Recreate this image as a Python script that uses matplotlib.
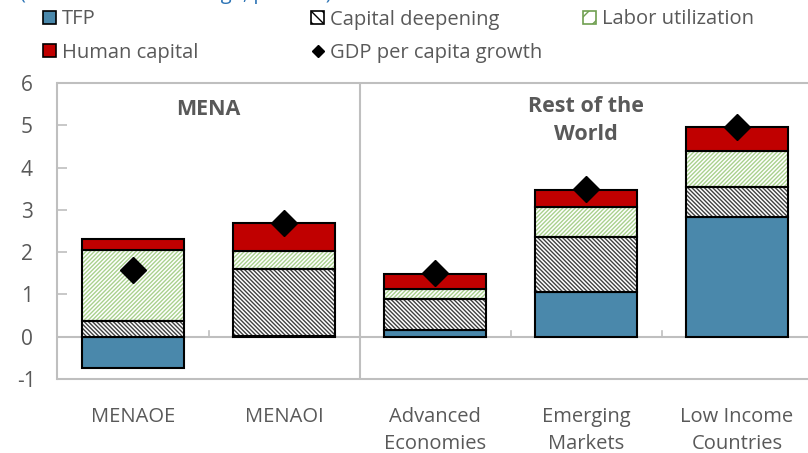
import matplotlib.pyplot as plt
from matplotlib.patches import Patch
from matplotlib.lines import Line2D

plt.rcParams['font.family'] = ['Open Sans', 'DejaVu Sans']
plt.rcParams['axes.unicode_minus'] = False
plt.rcParams['hatch.linewidth'] = 1.0

categories = ['MENAOE', 'MENAOI', 'Advanced\nEconomies', 'Emerging\nMarkets', 'Low Income\nCountries']
tfp = [-0.74, 0.02, 0.15, 1.06, 2.84]
capital = [0.37, 1.59, 0.75, 1.30, 0.71]
labor = [1.69, 0.41, 0.23, 0.70, 0.84]
human = [0.25, 0.67, 0.36, 0.42, 0.58]
gdp = [1.58, 2.70, 1.51, 3.50, 4.95]

grey = '#595959'
blue = '#4A88AB'
red = '#C00000'
green = '#A9D18E'

fig = plt.figure(figsize=(8.08, 4.53), dpi=100)
ax = fig.add_axes([57.5 / 808, (453 - 379) / 453, 755 / 808, 296 / 453])

x = list(range(len(categories)))
w = 0.67

# TFP (negative part goes below zero)
ax.bar(x, tfp, w, color=blue, edgecolor='black', linewidth=1.5, zorder=2)

# capital deepening sits on top of the positive TFP part
base1 = [max(t, 0) for t in tfp]
ax.bar(x, capital, w, bottom=base1, color='white', edgecolor='#404040', hatch='\\' * 8, linewidth=0, zorder=2)
ax.bar(x, capital, w, bottom=base1, fill=False, edgecolor='black', linewidth=1.5, zorder=3)

base2 = [b + c for b, c in zip(base1, capital)]
ax.bar(x, labor, w, bottom=base2, color='white', edgecolor=green, hatch='/' * 8, linewidth=0, zorder=2)
ax.bar(x, labor, w, bottom=base2, fill=False, edgecolor='black', linewidth=1.5, zorder=3)

base3 = [b + l for b, l in zip(base2, labor)]
ax.bar(x, human, w, bottom=base3, color=red, edgecolor='black', linewidth=1.5, zorder=3)

ax.plot(x, gdp, linestyle='none', marker='D', color='black', markersize=13.5, zorder=4)

ax.set_xlim(-0.5, 4.5)
ax.set_ylim(-1, 6)
ax.axhline(0, color='#BFBFBF', linewidth=1.5, zorder=1)
ax.axvline(1.5, color='#BFBFBF', linewidth=1.5, zorder=1)
for b in [0.5, 2.5, 3.5]:
    ax.plot([b, b], [0, 0.13], color='#BFBFBF', linewidth=1.2, zorder=1)

for s in ax.spines.values():
    s.set_color('#BFBFBF')
    s.set_linewidth(1.5)

ax.set_yticks(range(-1, 7))
ax.tick_params(axis='y', direction='in', length=7, color='#BFBFBF', width=1.2,
               labelsize=15, labelcolor=grey, pad=22)
for lab in ax.get_yticklabels():
    lab.set_horizontalalignment('center')
ax.set_xticks(x)
ax.set_xticklabels(categories, linespacing=1.45)
ax.tick_params(axis='x', length=0, labelsize=14.5, labelcolor=grey, pad=20)

ax.text(0.5, 5.37, 'MENA', ha='center', va='center', fontsize=15.5, fontweight='bold', color=grey)
ax.text(3, 5.12, 'Rest of the\nWorld', ha='center', va='center', fontsize=15.5, fontweight='bold',
        color=grey, linespacing=1.45)

# legend: three columns placed like the Excel original
cols = [
    (43, [Patch(facecolor=blue, edgecolor='black', linewidth=1.2),
          Patch(facecolor=red, edgecolor='black', linewidth=1.2)],
     ['TFP', 'Human capital']),
    (311, [Patch(facecolor='white', edgecolor='black', hatch='\\\\\\', linewidth=1.2),
           Line2D([], [], linestyle='none', marker='D', color='black', markersize=6)],
     ['Capital deepening', 'GDP per capita growth']),
    (583, [Patch(facecolor='white', edgecolor='#6F9F50', hatch='//', linewidth=1.2)],
     ['Labor utilization']),
]
for xpix, hs, ls in cols:
    fig.legend(hs, ls, loc='upper left', bbox_to_anchor=(xpix / 808, 1 - 9.5 / 453),
               frameon=False, fontsize=14.5, labelcolor=grey, handlelength=0.65, handleheight=0.6,
               handletextpad=0.3, labelspacing=0.65, borderpad=0, borderaxespad=0)

# chart subtitle, cut off at the top edge as in the source image
fig.text(20 / 808, 1 + 1 / 453, '(Contribution to change, percent)', color='#2E75B6', fontsize=14.5,
         ha='left', va='baseline')

fig.savefig('out.png', dpi=100)
